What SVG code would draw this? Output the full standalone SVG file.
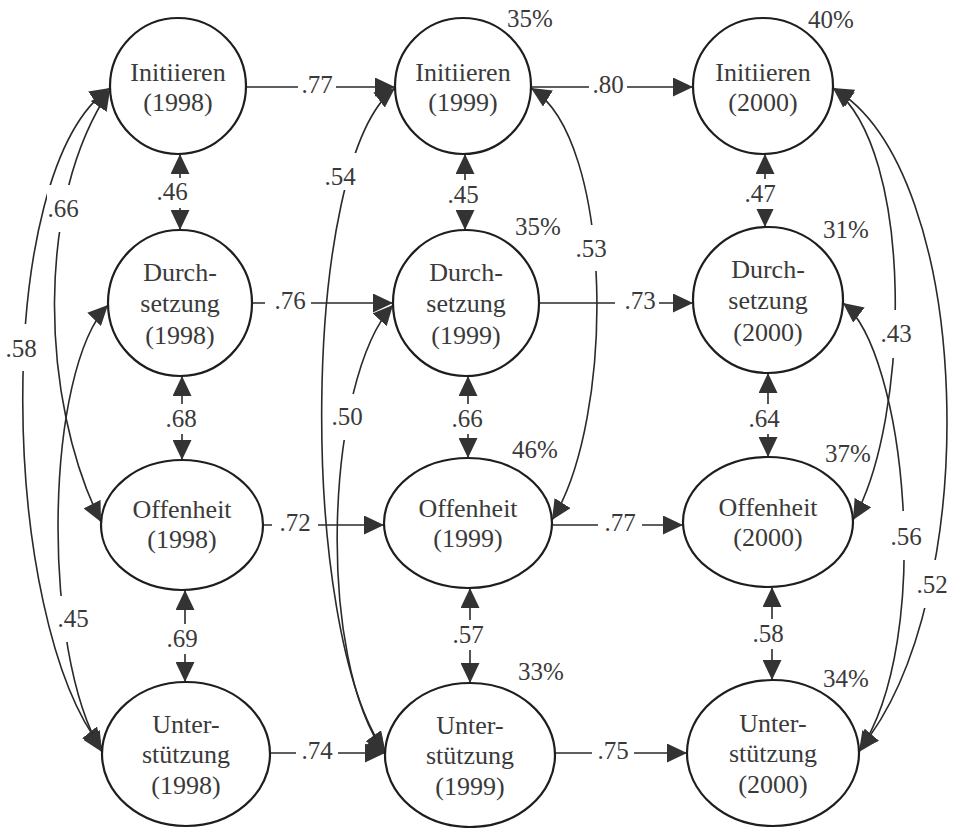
<svg xmlns="http://www.w3.org/2000/svg" width="956" height="828" viewBox="0 0 956 828">
  <style>
    .node ellipse { fill: #fff; stroke: #1e1e1e; stroke-width: 2.2; }
    .node text { font-family: "Liberation Serif", "Times New Roman", serif; font-size: 26px; fill: #3a3a3a; text-anchor: middle; }
    .edge { fill: none; stroke: #2a2a2a; stroke-width: 1.6; }
    .arr { marker-end: url(#ah); }
    .both { marker-start: url(#ah); marker-end: url(#ah); }
    .lbl rect { fill: #fff; }
    .lbl text, .pct { font-family: "Liberation Serif", "Times New Roman", serif; font-size: 25px; fill: #3a3a3a; }
    .lbl text { text-anchor: middle; }
  </style>
  <defs>
    <marker id="ah" viewBox="0 0 20 19" refX="20" refY="9.5" markerWidth="20" markerHeight="19" markerUnits="userSpaceOnUse" orient="auto-start-reverse">
      <path d="M0,0 L20,9.5 L0,19 Z" fill="#333"/>
    </marker>
  </defs>

  <g id="connectors">
    <!-- stability paths between waves -->
    <path class="edge arr" d="M246,87 L395,87"/>
    <path class="edge arr" d="M531,87 L693,87"/>
    <path class="edge arr" d="M252,303 L393,303"/>
    <path class="edge arr" d="M539,303 L693,303"/>
    <path class="edge arr" d="M263,525 L384,525"/>
    <path class="edge arr" d="M552,525 L683,525"/>
    <path class="edge arr" d="M270,753 L385,753"/>
    <path class="edge arr" d="M555,753 L687,753"/>
    <!-- correlations within a wave -->
    <path class="edge both" d="M180,154 L180,230"/>
    <path class="edge both" d="M182,376 L182,460"/>
    <path class="edge both" d="M185,590 L185,682"/>
    <path class="edge both" d="M465,154 L465,230"/>
    <path class="edge both" d="M468,376 L468,458"/>
    <path class="edge both" d="M470,588 L470,683"/>
    <path class="edge both" d="M765,154 L765,227"/>
    <path class="edge both" d="M768,373 L768,457"/>
    <path class="edge both" d="M772,587 L772,680"/>
    <!-- curved correlations -->
    <path class="edge both" d="M110,90 C35,200 40,400 101,522"/>
    <path class="edge both" d="M110,88 C-10,170 0,620 102,748"/>
    <path class="edge both" d="M108,305 C45,370 40,650 102,752"/>
    <path class="edge both" d="M395,88 C300,160 298,630 385,752"/>
    <path class="edge both" d="M393,305 C325,380 315,660 386,755"/>
    <path class="edge both" d="M531,88 C615,140 615,420 552,520"/>
    <path class="edge both" d="M833,88 C915,150 910,420 853,520"/>
    <path class="edge both" d="M833,88 C975,170 985,600 859,750"/>
    <path class="edge both" d="M843,303 C905,350 935,640 859,752"/>
  </g>

  <g id="labels">
    <!-- horizontal path coefficients -->
    <g class="lbl"><rect x="298" y="74" width="38" height="26"/><text x="317" y="93">.77</text></g>
    <g class="lbl"><rect x="589" y="74" width="38" height="26"/><text x="608" y="93">.80</text></g>
    <g class="lbl"><rect x="265" y="290" width="46" height="26"/><text x="290" y="309">.76</text></g>
    <g class="lbl"><rect x="615" y="290" width="44" height="26"/><text x="640" y="309">.73</text></g>
    <g class="lbl"><rect x="272" y="512" width="46" height="26"/><text x="295" y="531">.72</text></g>
    <g class="lbl"><rect x="598" y="512" width="44" height="26"/><text x="620" y="531">.77</text></g>
    <g class="lbl"><rect x="296" y="740" width="42" height="26"/><text x="317" y="759">.74</text></g>
    <g class="lbl"><rect x="592" y="740" width="42" height="26"/><text x="613" y="759">.75</text></g>
    <!-- vertical correlations -->
    <g class="lbl"><rect x="156" y="178" width="34" height="30"/><text x="172" y="200">.46</text></g>
    <g class="lbl"><rect x="165" y="404" width="34" height="30"/><text x="181" y="427">.68</text></g>
    <g class="lbl"><rect x="166" y="624" width="34" height="30"/><text x="182" y="647">.69</text></g>
    <g class="lbl"><rect x="447" y="180" width="34" height="30"/><text x="463" y="203">.45</text></g>
    <g class="lbl"><rect x="451" y="404" width="34" height="30"/><text x="467" y="427">.66</text></g>
    <g class="lbl"><rect x="452" y="620" width="34" height="30"/><text x="468" y="643">.57</text></g>
    <g class="lbl"><rect x="744" y="179" width="34" height="30"/><text x="760" y="202">.47</text></g>
    <g class="lbl"><rect x="748" y="404" width="34" height="30"/><text x="764" y="427">.64</text></g>
    <g class="lbl"><rect x="752" y="619" width="34" height="30"/><text x="768" y="642">.58</text></g>
    <!-- curved correlations -->
    <g class="lbl"><rect x="47" y="185" width="32" height="47"/><text x="63" y="217">.66</text></g>
    <g class="lbl"><rect x="5" y="324" width="32" height="47"/><text x="21" y="357">.58</text></g>
    <g class="lbl"><rect x="57" y="596" width="32" height="46"/><text x="73" y="627">.45</text></g>
    <g class="lbl"><rect x="324" y="153" width="32" height="37"/><text x="340" y="185">.54</text></g>
    <g class="lbl"><rect x="331" y="394" width="32" height="46"/><text x="347" y="425">.50</text></g>
    <g class="lbl"><rect x="575" y="225" width="32" height="46"/><text x="591" y="257">.53</text></g>
    <g class="lbl"><rect x="880" y="310" width="32" height="48"/><text x="896" y="342">.43</text></g>
    <g class="lbl"><rect x="890" y="511" width="32" height="49"/><text x="906" y="545">.56</text></g>
    <g class="lbl"><rect x="915" y="560" width="34" height="48"/><text x="932" y="593">.52</text></g>
  </g>

  <g id="n-init-1998" class="node"><ellipse cx="178" cy="86" rx="68" ry="68"/><text x="178" y="81">Initiieren</text><text x="178" y="111">(1998)</text></g>
  <g id="n-durch-1998" class="node"><ellipse cx="180" cy="303" rx="72" ry="73"/><text x="180" y="281">Durch-</text><text x="180" y="312">setzung</text><text x="180" y="344">(1998)</text></g>
  <g id="n-offen-1998" class="node"><ellipse cx="182" cy="525" rx="81" ry="65"/><text x="182" y="518">Offenheit</text><text x="182" y="548">(1998)</text></g>
  <g id="n-unter-1998" class="node"><ellipse cx="186" cy="754" rx="84" ry="72"/><text x="186" y="733">Unter-</text><text x="186" y="763">stützung</text><text x="186" y="794">(1998)</text></g>

  <g id="n-init-1999" class="node"><ellipse cx="463" cy="86" rx="68" ry="68"/><text x="463" y="81">Initiieren</text><text x="463" y="111">(1999)</text></g>
  <g id="n-durch-1999" class="node"><ellipse cx="466" cy="303" rx="73" ry="73"/><text x="466" y="281">Durch-</text><text x="466" y="312">setzung</text><text x="466" y="344">(1999)</text></g>
  <g id="n-offen-1999" class="node"><ellipse cx="468" cy="523" rx="84" ry="65"/><text x="468" y="517">Offenheit</text><text x="468" y="547">(1999)</text></g>
  <g id="n-unter-1999" class="node"><ellipse cx="470" cy="755" rx="85" ry="72"/><text x="470" y="734">Unter-</text><text x="470" y="764">stützung</text><text x="470" y="795">(1999)</text></g>

  <g id="n-init-2000" class="node"><ellipse cx="763" cy="86" rx="70" ry="68"/><text x="763" y="81">Initiieren</text><text x="763" y="111">(2000)</text></g>
  <g id="n-durch-2000" class="node"><ellipse cx="768" cy="300" rx="75" ry="73"/><text x="768" y="278">Durch-</text><text x="768" y="309">setzung</text><text x="768" y="341">(2000)</text></g>
  <g id="n-offen-2000" class="node"><ellipse cx="768" cy="522" rx="85" ry="65"/><text x="768" y="516">Offenheit</text><text x="768" y="546">(2000)</text></g>
  <g id="n-unter-2000" class="node"><ellipse cx="773" cy="753" rx="86" ry="73"/><text x="773" y="732">Unter-</text><text x="773" y="762">stützung</text><text x="773" y="793">(2000)</text></g>

  <g id="r-squared">
    <text class="pct" x="507" y="27">35%</text>
    <text class="pct" x="515" y="235">35%</text>
    <text class="pct" x="512" y="458">46%</text>
    <text class="pct" x="518" y="680">33%</text>
    <text class="pct" x="808" y="28">40%</text>
    <text class="pct" x="823" y="238">31%</text>
    <text class="pct" x="825" y="462">37%</text>
    <text class="pct" x="823" y="687">34%</text>
  </g>
</svg>
